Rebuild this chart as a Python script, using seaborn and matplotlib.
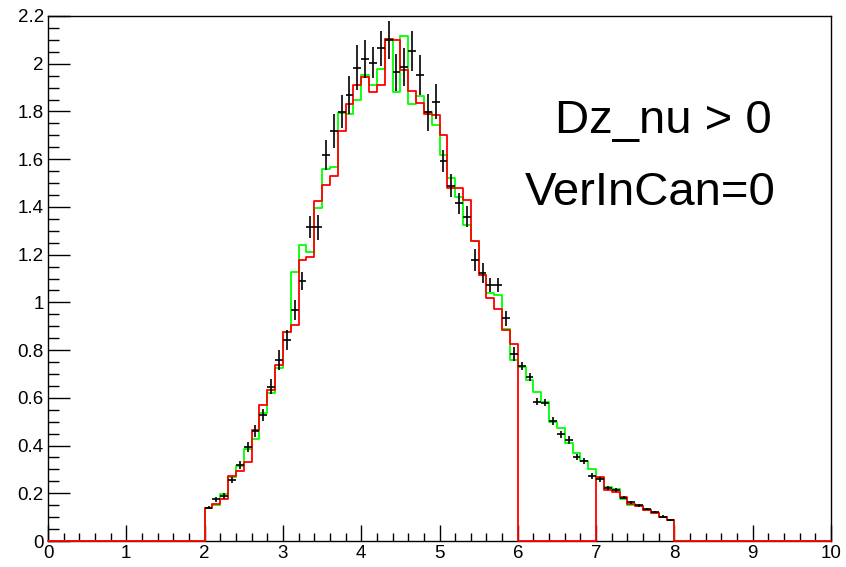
import numpy as np
import pandas as pd
import matplotlib
matplotlib.use("Agg")
import matplotlib.pyplot as plt
import seaborn as sns
from matplotlib.ticker import MultipleLocator, FuncFormatter

sns.set_theme(style="white")
plt.rcParams['font.family'] = ['Liberation Sans', 'DejaVu Sans']

# bins of width 0.1 from 2.0 to 8.0
bin_lo = np.round(np.arange(2.0, 8.0, 0.1), 1)

data_vals = [0.140, 0.175, 0.189, 0.256, 0.318, 0.395, 0.461, 0.528, 0.647, 0.759,
             0.842, 0.970, 1.091, 1.315, 1.315, 1.618, 1.718, 1.799, 1.869, 1.984,
             2.019, 2.005, 2.065, 2.098, 1.964, 1.988, 2.054, 1.953, 1.797, 1.841,
             1.593, 1.489, 1.415, 1.359, 1.178, 1.124, 1.073, 1.073, 0.933, 0.784,
             0.733, 0.689, 0.584, 0.580, 0.504, 0.447, 0.423, 0.351, 0.335, 0.272,
             0.259, 0.221, 0.214, 0.181, 0.162, 0.150, 0.134, 0.122, 0.102, 0.088]

data_errs = [0.007, 0.010, 0.013, 0.014, 0.017, 0.021, 0.024, 0.024, 0.030, 0.043,
             0.042, 0.042, 0.038, 0.047, 0.052, 0.063, 0.070, 0.070, 0.080, 0.095,
             0.079, 0.066, 0.073, 0.080, 0.077, 0.080, 0.085, 0.084, 0.077, 0.073,
             0.047, 0.049, 0.044, 0.045, 0.045, 0.043, 0.028, 0.028, 0.032, 0.029,
             0.017, 0.017, 0.014, 0.014, 0.017, 0.015, 0.015, 0.012, 0.011, 0.011,
             0.010, 0.008, 0.008, 0.007, 0.007, 0.006, 0.006, 0.005, 0.005, 0.005]

green_vals = [0.137, 0.150, 0.196, 0.270, 0.314, 0.384, 0.426, 0.535, 0.619, 0.724,
              0.877, 1.129, 1.241, 1.213, 1.394, 1.559, 1.569, 1.793, 1.788, 1.848,
              1.953, 1.911, 1.978, 2.104, 1.883, 2.118, 1.830, 1.865, 1.799, 1.743,
              1.618, 1.520, 1.443, 1.324, 1.259, 1.115, 1.041, 1.031, 0.889, 0.759,
              0.728, 0.675, 0.626, 0.584, 0.500, 0.472, 0.409, 0.370, 0.335, 0.302,
              0.265, 0.225, 0.218, 0.175, 0.150, 0.145, 0.130, 0.116, 0.102, 0.090]

red_vals = [0.137, 0.155, 0.175, 0.272, 0.293, 0.332, 0.465, 0.570, 0.633, 0.738,
            0.877, 0.905, 1.178, 1.189, 1.425, 1.492, 1.530, 1.718, 1.830, 1.911,
            1.946, 1.883, 1.911, 2.104, 2.100, 1.974, 1.886, 1.834, 1.788, 1.785,
            1.702, 1.478, 1.478, 1.429, 1.259, 1.115, 1.017, 0.971, 0.884, 0.824,
            0.0, 0.0, 0.0, 0.0, 0.0, 0.0, 0.0, 0.0, 0.0, 0.0,
            0.267, 0.214, 0.207, 0.183, 0.155, 0.145, 0.130, 0.116, 0.102, 0.086]

x_ticks = list(range(0, 11))
y_ticks = [0, 0.2, 0.4, 0.6, 0.8, 1.0, 1.2, 1.4, 1.6, 1.8, 2.0, 2.2]
label1 = "Dz_nu > 0"
label2 = "VerInCan=0"

centers = np.round(np.arange(100) * 0.1 + 0.05, 3)


def full(vals):
    arr = np.zeros(100)
    arr[20:80] = vals
    return arr


df = pd.DataFrame({"x": centers, "green": full(green_vals), "red": full(red_vals)})

fig = plt.figure(figsize=(8.46, 5.67), dpi=100)
ax = fig.add_axes([48 / 846, 26 / 567, 783 / 846, 525 / 567])

sns.histplot(data=df, x="x", weights="green", binwidth=0.1, binrange=(0, 10),
             element="step", fill=False, color="#00ff00", linewidth=1.3,
             ax=ax, zorder=3)
sns.histplot(data=df, x="x", weights="red", binwidth=0.1, binrange=(0, 10),
             element="step", fill=False, color="#ff0000", linewidth=1.3,
             ax=ax, zorder=4, clip_on=False)
ax.errorbar(bin_lo + 0.05, data_vals, xerr=0.05, yerr=data_errs, fmt="none",
            ecolor="black", elinewidth=1.2, capsize=0, zorder=5)

ax.set_xlim(0, 10)
ax.set_ylim(0, 2.2)
ax.set_xlabel("")
ax.set_ylabel("")
ax.set_xticks(x_ticks)
ax.set_yticks(y_ticks)
ax.xaxis.set_minor_locator(MultipleLocator(0.2))
ax.yaxis.set_minor_locator(MultipleLocator(0.05))
ax.yaxis.set_major_formatter(FuncFormatter(lambda v, p: f"{v:g}"))
ax.xaxis.set_major_formatter(FuncFormatter(lambda v, p: f"{v:g}"))

ax.tick_params(which="both", direction="in", bottom=True, left=True,
               top=False, right=False, colors="black", labelsize=13.5)
ax.tick_params(axis="x", which="major", length=11.5, width=1, pad=3)
ax.tick_params(axis="x", which="minor", length=6, width=1)
ax.tick_params(axis="y", which="major", length=16, width=1, pad=3)
ax.tick_params(axis="y", which="minor", length=8, width=1)

for s in ax.spines.values():
    s.set_color("black")
    s.set_linewidth(1)
    s.set_zorder(2.5)

ax.text(6.475, 1.71, label1, fontsize=34, ha="left", va="baseline", color="black")
ax.text(6.09, 1.408, label2, fontsize=34, ha="left", va="baseline", color="black")

fig.savefig("out.png", dpi=100)
